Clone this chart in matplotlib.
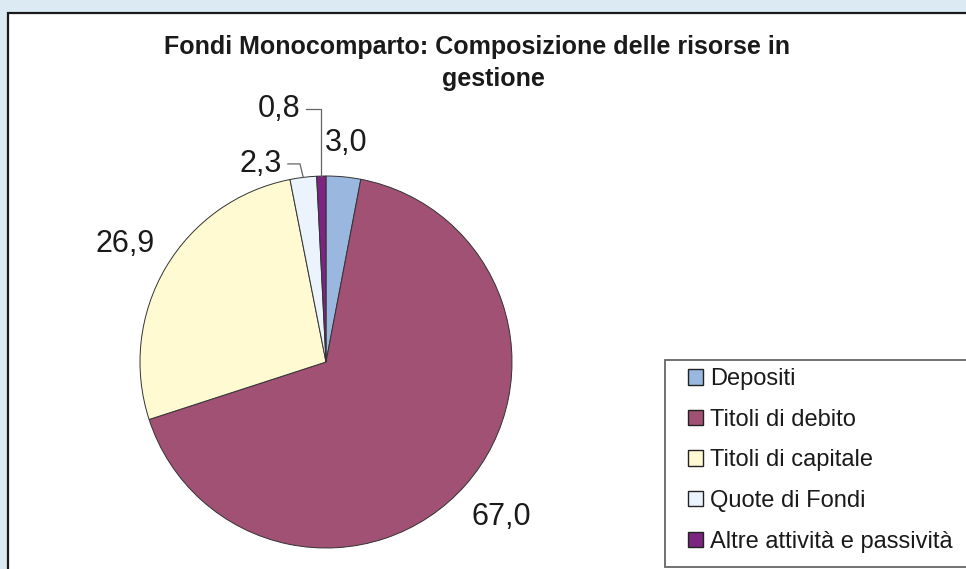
import numpy as np
import matplotlib
matplotlib.use("Agg")
import matplotlib.pyplot as plt
from matplotlib.patches import Rectangle

categories = ["Depositi", "Titoli di debito", "Titoli di capitale",
              "Quote di Fondi", "Altre attività e passività"]
values = [3.0, 67.0, 26.9, 2.3, 0.8]
value_labels = ["3,0", "67,0", "26,9", "2,3", "0,8"]
colors = ["#99b7df", "#a05174", "#fffad2", "#ebf4fc", "#7b2480"]
title_lines = ["Fondi Monocomparto: Composizione delle risorse in", "gestione"]

plt.rcParams['font.family'] = ['Liberation Sans', 'DejaVu Sans']

W, H = 966, 569
fig = plt.figure(figsize=(W / 100, H / 100), dpi=100, facecolor="#dbeaf3")


def fx(px):
    return px / W


def fy(py):
    return 1 - py / H


# white chart panel with dark border
fig.patches.append(Rectangle((fx(8), fy(580)), fx(980) - fx(8), fy(13) - fy(580),
                             transform=fig.transFigure, facecolor="white",
                             edgecolor="#1a1a1a", lw=1.6, zorder=-10))

# title
fig.text(fx(477), fy(47), title_lines[0], ha="center", va="center",
         fontsize=18, fontweight="bold", color="#1a1a1a")
fig.text(fx(493), fy(79), title_lines[1], ha="center", va="center",
         fontsize=18, fontweight="bold", color="#1a1a1a")

# pie
cx, cy, R = 326, 362, 186
ax = fig.add_axes([fx(cx - R), fy(cy + R), 2 * R / W, 2 * R / H])
ax.set_zorder(5)
wedges, _ = ax.pie(values, colors=colors, startangle=90, counterclock=False,
                   wedgeprops=dict(edgecolor="#333333", linewidth=0.7))
ax.set_xlim(-1, 1)
ax.set_ylim(-1, 1)
ax.axis("off")

# label placement: radius along mid-angle, or explicit with leader line
label_place = [("polar", 1.18), ("polar", 1.26), ("polar", 1.25),
               ("leader", (-0.35, 1.065), -0.14), ("leader", (-0.253, 1.36), None)]
lab_fs = 22
for w, lab, place in zip(wedges, value_labels, label_place):
    mid = np.deg2rad((w.theta1 + w.theta2) / 2)
    if place[0] == "polar":
        r = place[1]
        ax.text(r * np.cos(mid), r * np.sin(mid), lab, ha="center", va="center",
                fontsize=lab_fs, color="#1a1a1a", clip_on=False)
    else:
        (lx, ly), bend_x = place[1], place[2]
        ax.text(lx, ly, lab, ha="center", va="center", fontsize=lab_fs,
                color="#1a1a1a", clip_on=False)
        px, py = np.cos(mid), np.sin(mid)
        start_x = lx + 0.145
        if bend_x is None:
            xs = [start_x, px, px]
        else:
            xs = [start_x, bend_x, px]
        ys = [ly, ly, py]
        ax.plot(xs, ys, color="#666666", lw=0.9, clip_on=False)

# legend frame
fig.patches.append(Rectangle((fx(665), fy(567)), fx(990) - fx(665), fy(360) - fy(567),
                             transform=fig.transFigure, facecolor="white",
                             edgecolor="#666666", lw=1.3, zorder=-5))
handles = [Rectangle((0, 0), 1, 1, facecolor=c, edgecolor="#222222", lw=1.0)
           for c in colors]
leg = fig.legend(handles, categories, loc="upper left",
                 bbox_to_anchor=(fx(688), fy(368)), frameon=False,
                 fontsize=17, handlelength=0.64, handleheight=0.64,
                 handletextpad=0.3, labelspacing=0.79, borderpad=0,
                 borderaxespad=0)
leg.set_zorder(6)
for t in leg.get_texts():
    t.set_color("#1a1a1a")

fig.savefig("out.png", dpi=100, facecolor=fig.get_facecolor())
